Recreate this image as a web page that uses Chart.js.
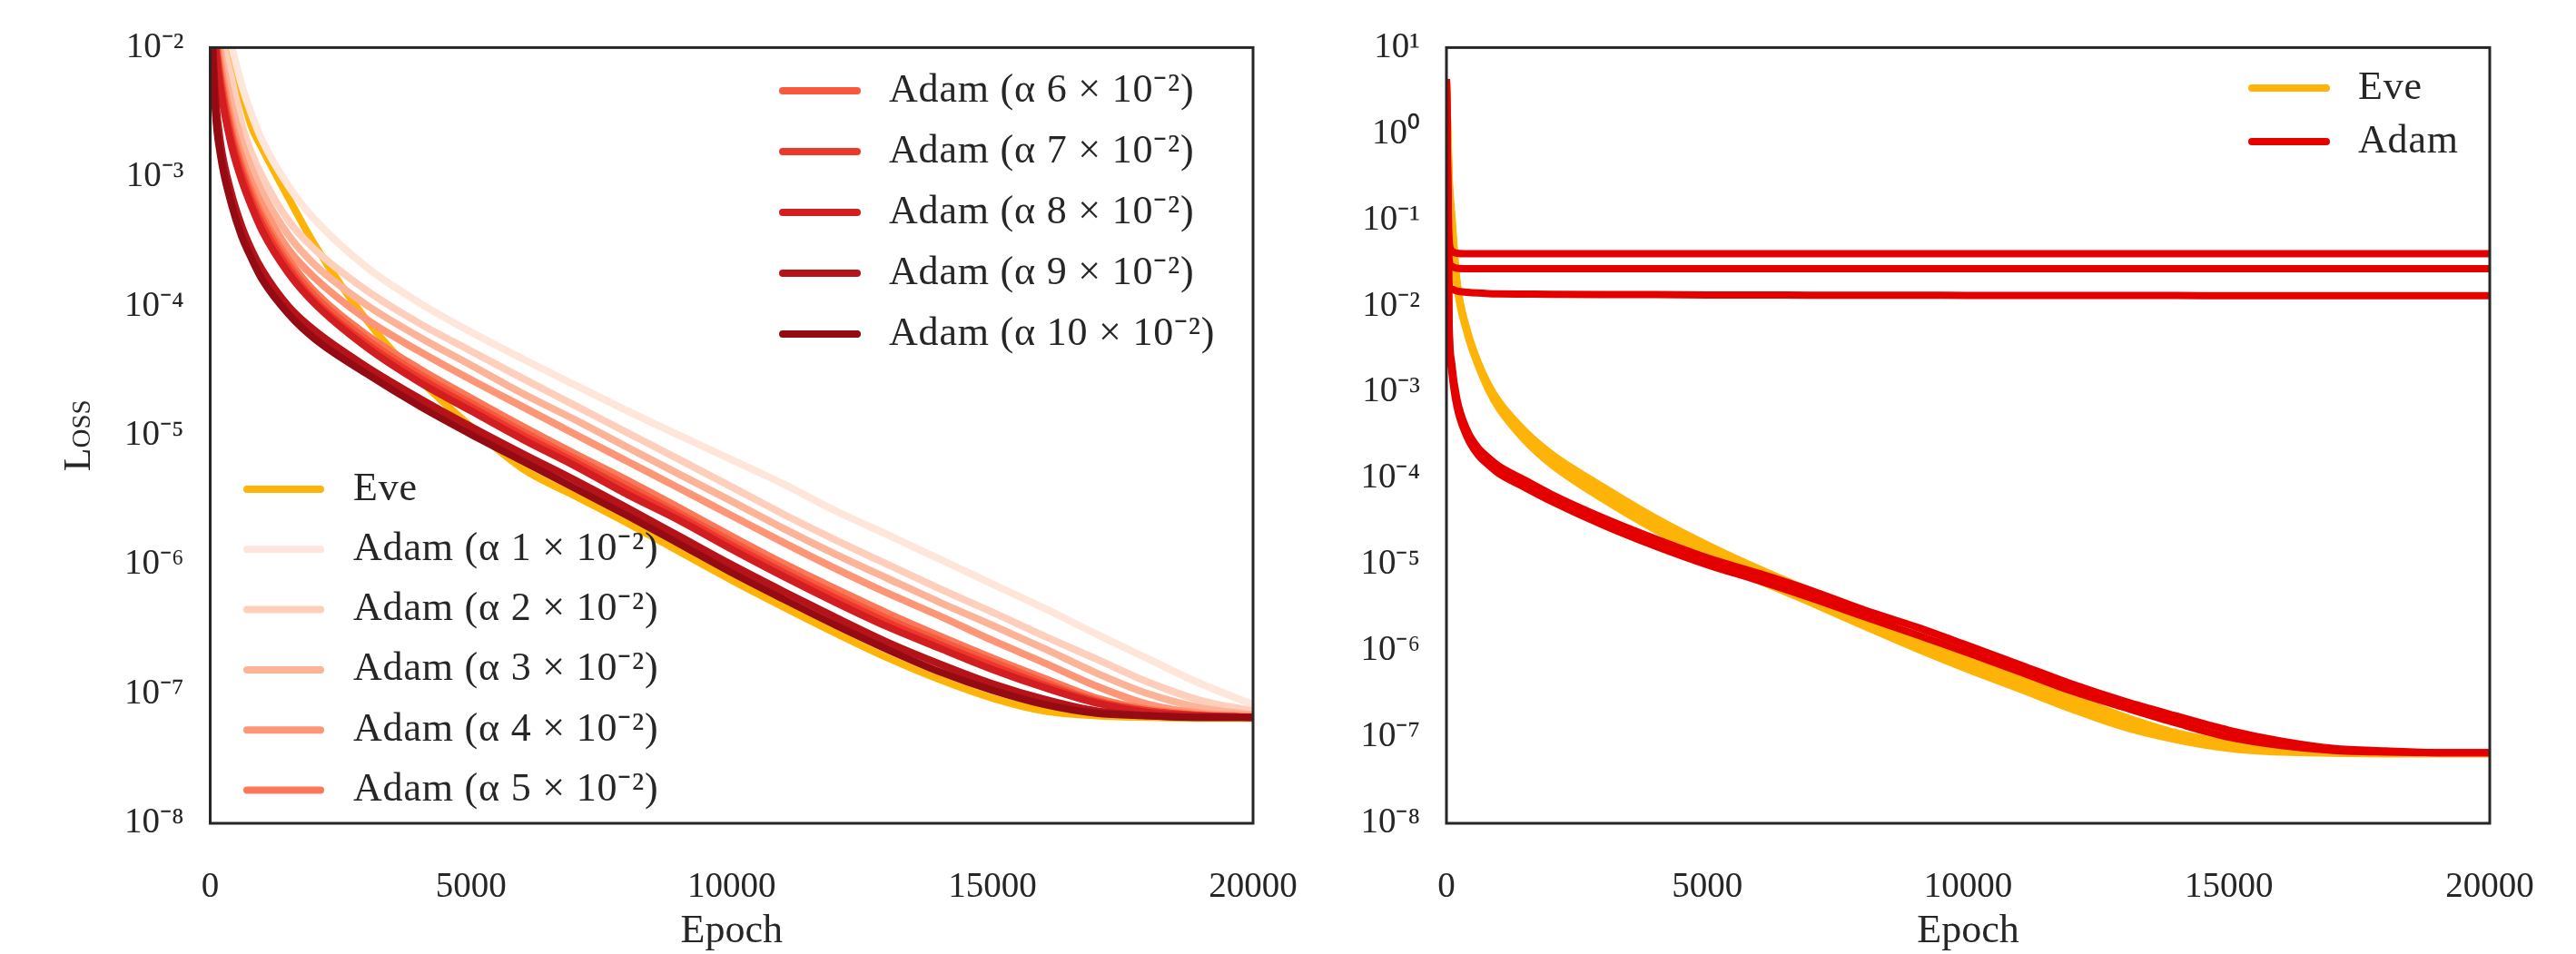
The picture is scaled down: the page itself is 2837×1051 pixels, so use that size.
<!DOCTYPE html>
<html><head><meta charset="utf-8">
<script src="https://cdn.jsdelivr.net/npm/chart.js@4.4.1/dist/chart.umd.min.js"></script>
<style>
html,body{margin:0;padding:0;background:#fff;}
#wrap{position:relative;width:2837px;height:1051px;overflow:hidden;background:#fff;}
canvas{position:absolute;top:0;}
#cL{left:0;} #cR{left:1440px;}
</style></head><body>
<div id="wrap"><canvas id="cL" width="1500" height="1051"></canvas><canvas id="cR" width="1460" height="1051"></canvas></div>
<script>
// ---------------- data ----------------
const epochs = [0,50,100,200,400,600,800,1000,1500,2000,3000,4000,5000,6000,7000,8000,9000,10000,11000,12000,13000,14000,15000,16000,17000,18000,19000,20000];

// left panel
const eveLeft = [3.2e-2,2.4e-2,1.9e-2,1.3e-2,8.3e-3,4.5e-3,2.4e-3,1.65e-3,6.9e-4,3.0e-4,7.8e-5,2.75e-5,1.17e-5,5.5e-6,3.4e-6,2.1e-6,1.26e-6,7.6e-7,4.7e-7,2.95e-7,1.9e-7,1.29e-7,9.3e-8,7.4e-8,6.8e-8,6.6e-8,6.5e-8,6.5e-8];
const adam1 = [4.0e-2,3.2e-2,2.5e-2,1.8e-2,1.05e-2,5.2e-3,3.0e-3,1.9e-3,8.5e-4,4.7e-4,2.0e-4,1.07e-4,6.3e-5,3.9e-5,2.45e-5,1.55e-5,1.0e-5,6.5e-6,4.2e-6,2.6e-6,1.7e-6,1.1e-6,7.1e-7,4.6e-7,2.9e-7,1.86e-7,1.2e-7,8.3e-8];
const adam2 = [5.0e-2,3.2e-2,2.2e-2,1.3e-2,6.0e-3,2.6e-3,1.5e-3,1.0e-3,4.6e-4,2.75e-4,1.32e-4,7.4e-5,4.5e-5,2.75e-5,1.7e-5,1.05e-5,6.5e-6,4.0e-6,2.45e-6,1.55e-6,1.0e-6,6.5e-7,4.3e-7,2.8e-7,1.86e-7,1.23e-7,8.9e-8,7.4e-8];
const adam3 = [5.0e-2,2.8e-2,1.8e-2,9.5e-3,3.8e-3,1.9e-3,1.15e-3,7.6e-4,3.55e-4,2.1e-4,1.02e-4,5.8e-5,3.5e-5,2.1e-5,1.32e-5,8.1e-6,5.0e-6,3.1e-6,1.9e-6,1.2e-6,7.8e-7,5.1e-7,3.4e-7,2.24e-7,1.45e-7,1.0e-7,7.8e-8,6.9e-8];
const adam4 = [5.0e-2,2.5e-2,1.5e-2,7.6e-3,2.8e-3,1.45e-3,8.9e-4,6.0e-4,2.75e-4,1.66e-4,7.9e-5,4.5e-5,2.7e-5,1.66e-5,1.02e-5,6.3e-6,3.9e-6,2.4e-6,1.48e-6,9.3e-7,6.0e-7,4.0e-7,2.6e-7,1.74e-7,1.15e-7,8.3e-8,7.1e-8,6.8e-8];
const adam5 = [5.0e-2,2.2e-2,1.3e-2,6.3e-3,2.4e-3,1.25e-3,7.6e-4,5.0e-4,2.3e-4,1.3e-4,6.0e-5,3.3e-5,1.95e-5,1.17e-5,7.2e-6,4.5e-6,2.75e-6,1.66e-6,1.02e-6,6.5e-7,4.2e-7,2.8e-7,1.9e-7,1.32e-7,9.3e-8,7.6e-8,6.9e-8,6.6e-8];
const adam6 = [4.5e-2,2.0e-2,1.2e-2,5.8e-3,2.2e-3,1.15e-3,6.9e-4,4.6e-4,2.1e-4,1.2e-4,5.5e-5,3.0e-5,1.78e-5,1.07e-5,6.6e-6,4.1e-6,2.5e-6,1.51e-6,9.3e-7,5.9e-7,3.8e-7,2.57e-7,1.78e-7,1.23e-7,8.9e-8,7.4e-8,6.8e-8,6.6e-8];
const adam7 = [4.0e-2,1.8e-2,1.1e-2,5.2e-3,2.0e-3,1.05e-3,6.3e-4,4.2e-4,1.95e-4,1.1e-4,5.1e-5,2.8e-5,1.66e-5,1.0e-5,6.2e-6,3.8e-6,2.35e-6,1.41e-6,8.7e-7,5.5e-7,3.55e-7,2.4e-7,1.66e-7,1.17e-7,8.7e-8,7.4e-8,6.8e-8,6.6e-8];
const adam8 = [3.5e-2,1.6e-2,1.0e-2,4.7e-3,1.8e-3,9.5e-4,5.8e-4,3.8e-4,1.8e-4,1.05e-4,4.8e-5,2.6e-5,1.55e-5,9.3e-6,5.8e-6,3.5e-6,2.2e-6,1.32e-6,8.1e-7,5.1e-7,3.3e-7,2.25e-7,1.55e-7,1.12e-7,8.5e-8,7.2e-8,6.8e-8,6.6e-8];
const adam9 = [3.5e-2,1.1e-2,4.2e-3,1.8e-3,7.6e-4,4.2e-4,2.7e-4,1.9e-4,1.0e-4,6.5e-5,3.4e-5,1.95e-5,1.17e-5,7.2e-6,4.5e-6,2.75e-6,1.66e-6,1.0e-6,6.2e-7,3.9e-7,2.5e-7,1.7e-7,1.2e-7,9.1e-8,7.4e-8,6.8e-8,6.6e-8,6.6e-8];
const adam10 = [3.2e-2,8.9e-3,3.2e-3,1.45e-3,6.3e-4,3.5e-4,2.3e-4,1.6e-4,8.7e-5,5.6e-5,3.0e-5,1.7e-5,1.02e-5,6.3e-6,3.9e-6,2.4e-6,1.45e-6,8.7e-7,5.4e-7,3.4e-7,2.2e-7,1.48e-7,1.07e-7,8.3e-8,7.1e-8,6.8e-8,6.6e-8,6.6e-8];
const leftSeries = [eveLeft, adam1, adam2, adam3, adam4, adam5, adam6, adam7, adam8, adam9, adam10];
const leftLabels = ['Eve','Adam (α 1 × 10⁻²)','Adam (α 2 × 10⁻²)','Adam (α 3 × 10⁻²)','Adam (α 4 × 10⁻²)','Adam (α 5 × 10⁻²)','Adam (α 6 × 10⁻²)','Adam (α 7 × 10⁻²)','Adam (α 8 × 10⁻²)','Adam (α 9 × 10⁻²)','Adam (α 10 × 10⁻²)'];

// right panel (several runs per optimiser)
const eveRunA = [4.3,0.32,0.118,0.020,5.2e-3,2.3e-3,1.25e-3,7.9e-4,3.55e-4,1.95e-4,8.0e-5,3.5e-5,1.7e-5,8.9e-6,4.9e-6,2.7e-6,1.48e-6,8.5e-7,4.9e-7,2.9e-7,1.72e-7,1.12e-7,8.5e-8,7.1e-8,6.7e-8,6.5e-8,6.5e-8,6.5e-8];
const eveRunB = [4.3,0.30,0.11,0.019,5.0e-3,2.2e-3,1.17e-3,7.2e-4,3.16e-4,1.7e-4,6.8e-5,3.0e-5,1.45e-5,7.6e-6,4.2e-6,2.3e-6,1.26e-6,7.2e-7,4.2e-7,2.45e-7,1.5e-7,1.02e-7,7.9e-8,6.9e-8,6.6e-8,6.5e-8,6.5e-8,6.5e-8];
const eveRunC = [4.3,0.28,0.10,0.018,4.8e-3,2.1e-3,1.09e-3,6.6e-4,2.8e-4,1.48e-4,5.8e-5,2.55e-5,1.23e-5,6.5e-6,3.6e-6,1.95e-6,1.07e-6,6.1e-7,3.6e-7,2.1e-7,1.3e-7,9.3e-8,7.4e-8,6.7e-8,6.5e-8,6.4e-8,6.4e-8,6.4e-8];
const adamRunA = [4.3,7.0e-3,2.2e-3,8.4e-4,3.6e-4,2.3e-4,1.75e-4,1.4e-4,9.6e-5,6.6e-5,3.5e-5,2.0e-5,1.2e-5,7.9e-6,5.0e-6,3.0e-6,1.9e-6,1.15e-6,6.9e-7,4.1e-7,2.6e-7,1.75e-7,1.2e-7,9.0e-8,7.4e-8,6.9e-8,6.6e-8,6.6e-8];
const adamRunB = [4.3,5.7e-3,1.8e-3,6.9e-4,3.0e-4,1.9e-4,1.45e-4,1.15e-4,7.9e-5,5.5e-5,2.9e-5,1.65e-5,1.0e-5,6.5e-6,4.1e-6,2.5e-6,1.55e-6,9.5e-7,5.7e-7,3.4e-7,2.2e-7,1.45e-7,1.0e-7,8.0e-8,7.0e-8,6.7e-8,6.6e-8,6.6e-8];
const adamRunC = [4.3,0.060,0.044,0.041,0.0405,0.0405,0.0405,0.0405,0.0405,0.0405,0.0405,0.0405,0.0405,0.0405,0.0405,0.0405,0.0405,0.0405,0.0405,0.0405,0.0405,0.0405,0.0405,0.0405,0.0405,0.0405,0.0405,0.0405];
const adamRunD = [4.3,0.035,0.029,0.0275,0.0272,0.0272,0.0272,0.0272,0.0272,0.0272,0.0272,0.0272,0.0272,0.0272,0.0272,0.0272,0.0272,0.0272,0.0272,0.0272,0.0272,0.0272,0.0272,0.0272,0.0272,0.0272,0.0272,0.0272];
const adamRunE = [4.3,0.018,0.0158,0.0150,0.0145,0.0142,0.0140,0.0139,0.0138,0.0137,0.0136,0.0136,0.0135,0.0135,0.0134,0.0134,0.0134,0.0133,0.0133,0.0133,0.0133,0.0133,0.0132,0.0132,0.0132,0.0132,0.0132,0.0132];
const eveRuns = [eveRunA, eveRunB, eveRunC];
const adamRuns = [adamRunA, adamRunB, adamRunC, adamRunD, adamRunE];
const rightLabels = ['Eve','Adam'];

// ticks
const xTicks = [0,5000,10000,15000,20000];
const xTickLabels = ['0','5000','10000','15000','20000'];
const leftYTicks = [1e-8,1e-7,1e-6,1e-5,1e-4,1e-3,1e-2];
const leftYTickLabels = ['10⁻⁸','10⁻⁷','10⁻⁶','10⁻⁵','10⁻⁴','10⁻³','10⁻²'];
const rightYTicks = [1e-8,1e-7,1e-6,1e-5,1e-4,1e-3,1e-2,1e-1,1,10];
const rightYTickLabels = ['10⁻⁸','10⁻⁷','10⁻⁶','10⁻⁵','10⁻⁴','10⁻³','10⁻²','10⁻¹','10⁰','10¹'];

// ---------------- styles ----------------
const TXT = '#262626';
const EVE_COLOR = '#feb308';
const ADAM_RED = '#e50000';
const leftColors = [EVE_COLOR,'#fee6da','#fdcfbc','#fcb499','#fc9676','#fb7958','#f7593f','#ec382b','#d21e20','#b61319','#940b13'];
const LW = 8;
const FAMILY = "'Liberation Serif', 'Times New Roman', serif";

Chart.defaults.font.family = FAMILY;
Chart.defaults.color = TXT;

function pts(vals){ return epochs.map((e,i)=>({x:e,y:vals[i]})); }
function ds(label, vals, color, order){
  return {label, data: pts(vals), borderColor: color, backgroundColor: color, borderWidth: LW,
    pointRadius:0, fill:false, cubicInterpolationMode:'monotone', clip:0, order,
    borderJoinStyle:'round', borderCapStyle:'butt'};
}
function xScale(){
  return { type:'linear', min:0, max:20000,
    grid:{display:false, drawTicks:false}, border:{display:false},
    afterBuildTicks: s => { s.ticks = xTicks.map(v=>({value:v})); },
    afterFit: s => { s.height = 144; },
    ticks:{ padding:47, font:{size:39}, color:TXT, maxRotation:0, autoSkip:false,
      callback:(v)=>{ const i = xTicks.indexOf(v); return i>=0 ? xTickLabels[i] : ''; } },
    title:{ display:true, text:'Epoch', font:{size:44, lineHeight:1.0}, color:TXT, padding:{top:0,bottom:3} } };
}
function yScale(min,max,ticks,labels,width,title){
  return { type:'logarithmic', min, max,
    grid:{display:false, drawTicks:false}, border:{display:false},
    afterBuildTicks: s => { s.ticks = ticks.map(v=>({value:v})); },
    afterFit: s => { s.width = width; },
    ticks:{ padding:29, font:{size:39}, color:TXT, autoSkip:false,
      callback:(v)=>{ const i = ticks.findIndex(t=>Math.abs(Math.log10(t)-Math.log10(v))<1e-6); return i>=0 ? labels[i] : ''; } },
    title: title ? { display:true, text:title, font:{size:42, weight:'small-caps'}, color:TXT, padding:{top:63,bottom:0} } : {display:false} };
}
const framePlugin = { id:'frame', afterDatasetsDraw(chart){
  const {ctx, chartArea:a} = chart; ctx.save(); ctx.strokeStyle = TXT; ctx.lineWidth = 3;
  ctx.strokeRect(a.left, a.top, a.right-a.left, a.bottom-a.top); ctx.restore(); } };
function legendPlugin(groups){
  return { id:'mplLegend', afterDraw(chart){
    const ctx = chart.ctx; ctx.save();
    groups.forEach(g=>{
      g.items.forEach((it,k)=>{
        const y = g.y0 + k*g.dy;
        ctx.strokeStyle = it.color; ctx.lineWidth = 8; ctx.lineCap = 'round';
        ctx.beginPath(); ctx.moveTo(g.x0+4, y); ctx.lineTo(g.x1-4, y); ctx.stroke();
        ctx.fillStyle = TXT; ctx.font = "44px " + FAMILY;
        if ('letterSpacing' in ctx) ctx.letterSpacing = '0.8px';
        ctx.textAlign = 'left'; ctx.textBaseline = 'middle';
        ctx.fillText(it.label, g.tx, y);
      });
    });
    ctx.restore(); } };
}

// ---------------- left chart ----------------
const leftDatasets = leftSeries.map((vals,i)=>ds(leftLabels[i], vals, leftColors[i], 20-i));
const leftItems = leftLabels.map((l,i)=>({label:l, color:leftColors[i]}));
new Chart(document.getElementById('cL'), {
  type:'line',
  data:{ datasets: leftDatasets },
  options:{ responsive:false, animation:false, devicePixelRatio:1, events:[],
    layout:{ padding:{left:0, top:43, right:120, bottom:0} },
    plugins:{ legend:{display:false}, tooltip:{enabled:false} },
    scales:{ x: xScale(), y: yScale(1e-8, 1e-2, leftYTicks, leftYTickLabels, 231.5, 'Loss') } },
  plugins:[framePlugin, legendPlugin([
    { x0:268, x1:357, tx:389, y0:539, dy:66.3, items: leftItems.slice(0,6) },
    { x0:858, x1:948, tx:979, y0:100, dy:67, items: leftItems.slice(6) }
  ])]
});

// ---------------- right chart ----------------
const rightDatasets = [];
eveRuns.forEach((r,i)=>rightDatasets.push(ds('Eve', r, EVE_COLOR, 20-i)));
adamRuns.forEach((r,i)=>rightDatasets.push(ds('Adam', r, ADAM_RED, 10-i)));
new Chart(document.getElementById('cR'), {
  type:'line',
  data:{ datasets: rightDatasets },
  options:{ responsive:false, animation:false, devicePixelRatio:1, events:[],
    layout:{ padding:{left:0, top:43, right:158, bottom:0} },
    plugins:{ legend:{display:false}, tooltip:{enabled:false} },
    scales:{ x: xScale(), y: yScale(1e-8, 10, rightYTicks, rightYTickLabels, 153, null) } },
  plugins:[framePlugin, legendPlugin([
    { x0:1036, x1:1126, tx:1157, y0:97, dy:59, items:[{label:rightLabels[0], color:EVE_COLOR},{label:rightLabels[1], color:ADAM_RED}] }
  ])]
});
</script>
</body></html>
